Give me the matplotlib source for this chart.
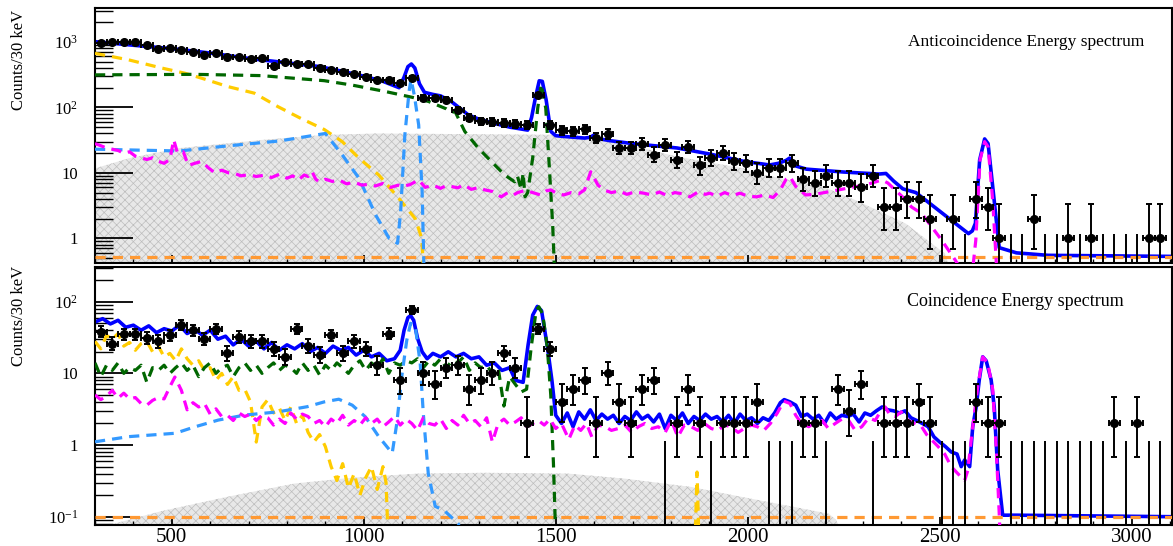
import numpy as np
import matplotlib
matplotlib.use("Agg")
import matplotlib.pyplot as plt
from matplotlib.ticker import MultipleLocator, FixedLocator, FixedFormatter, LogLocator, NullFormatter

plt.rcParams['font.family'] = ['Liberation Serif', 'DejaVu Serif']
plt.rcParams['mathtext.fontset'] = 'custom'
plt.rcParams['mathtext.rm'] = 'Liberation Serif'
plt.rcParams['hatch.linewidth'] = 0.5

# 30 keV bins from 300 keV
bin_start, bin_width, n_bins = 300, 30, 93
centers = bin_start + bin_width / 2 + bin_width * np.arange(n_bins)

# ---------------- anticoincidence (top) ----------------
top_counts = [960, 990, 1000, 1010, 900, 780, 800, 760, 700, 635,
              675, 585, 585, 550, 565, 436, 490, 457, 457, 406,
              374, 345, 322, 296, 264, 265, 240, 285, 141, 138,
              131, 91, 70, 61, 59, 58, 56, 54, 155, 54,
              45, 43, 46, 34, 39, 24, 24, 28, 19, 27,
              16, 25, 13, 17, 20, 15, 14, 10, 12, 12,
              14, 8, 7, 9, 7, 7, 6, 9, 3, 3,
              4, 4, 2, 0, 2, 0, 4, 3, 1, 0,
              0, 2, 0, 0, 1, 0, 1, 0, 0, 0,
              0, 1, 1]

top_total_e = [300, 400, 500, 603, 700, 800, 884, 950, 1000, 1050, 1092, 1105, 1115, 1124,
               1133, 1145, 1158, 1180, 1200, 1228, 1272, 1300, 1340, 1380, 1427, 1437, 1447,
               1457, 1465, 1475, 1487, 1500, 1521, 1575, 1590, 1600, 1615, 1642, 1700, 1816,
               1901, 1990, 2057, 2080, 2100, 2109, 2120, 2153, 2250, 2342, 2360, 2380, 2404,
               2438, 2500, 2575, 2585, 2593, 2604, 2617, 2626, 2638, 2655, 2700, 2782, 3105]
top_total_v = [1010, 890, 790, 674, 560, 480, 421, 350, 300, 250, 200, 290, 420, 460,
               400, 230, 170, 158, 150, 123, 77, 66, 57, 50, 45, 70, 140,
               255, 250, 130, 43, 37, 36, 34, 35, 38, 33, 31, 28, 24,
               19.4, 15, 13.2, 14, 15.5, 16.8, 13, 11.4, 10.3, 9.6, 9.8, 7.5, 5.7,
               5.0, 2.6, 1.18, 1.3, 1.7, 15.7, 33, 28, 6.2, 0.72, 0.6, 0.55, 0.53]

top_yellow_e = [300, 388, 474, 534, 578, 646, 715, 776, 836, 897, 944, 988, 1039, 1091, 1134, 1151, 1156]
top_yellow_v = [670, 532, 399, 333, 279, 208, 165, 103, 68, 46, 30, 16.7, 9.3, 4.1, 2.0, 1.0, 0.3]

top_green_e = [300, 560, 733, 897, 970, 1056, 1130, 1169, 1215, 1228, 1238, 1263, 1298, 1332,
               1367, 1393, 1400, 1410, 1415, 1420, 1427, 1440, 1453, 1462, 1474, 1483, 1492, 1497]
top_green_v = [314, 320, 306, 256, 219, 175, 141, 123, 95, 84, 86, 43, 24, 15,
               9.3, 7.3, 9, 5.6, 10, 4.3, 5.0, 17, 97, 226, 97, 13, 1.6, 0.3]

top_lblue_e = [300, 390, 520, 650, 780, 900, 944, 988, 1031, 1066, 1088, 1096, 1107, 1118,
               1123, 1132, 1143, 1152, 1157]
top_lblue_v = [23, 22.4, 21.6, 26, 30.7, 40, 18.8, 8.2, 2.27, 1.0, 0.84, 2.55, 38, 175,
               270, 150, 54, 5.2, 0.3]

top_mag_e = [300, 315, 330, 345, 360, 375, 390, 405, 420, 435, 450, 465, 480, 495, 505, 515,
             530, 543, 560, 578, 595, 612, 630, 648, 664, 680, 700, 720, 740, 760, 780, 800,
             815, 830, 845, 855, 865, 875, 884, 900, 918, 936, 955, 975, 995, 1013, 1030,
             1050, 1070, 1090, 1100, 1120, 1143, 1160, 1180, 1200, 1215, 1228, 1245, 1260,
             1280, 1300, 1315, 1335, 1358, 1375, 1390, 1401, 1420, 1440, 1460, 1475, 1487,
             1505, 1521, 1540, 1560, 1575, 1591, 1610, 1625, 1645, 1665, 1685, 1705, 1729,
             1750, 1770, 1790, 1810, 1830, 1850, 1870, 1890, 1901, 1920, 1940, 1960, 1980,
             2000, 2023, 2045, 2066, 2085, 2100, 2110, 2125, 2151, 2175, 2200, 2237, 2270,
             2306, 2330, 2349, 2365, 2384, 2405, 2427, 2453, 2479, 2505, 2540, 2560, 2585,
             2594, 2605, 2617, 2626, 2638, 2647, 2652]
top_mag_v = [28, 26, 24, 23, 22, 20, 21, 18, 17, 16, 17, 15, 14, 16, 32, 20,
             21, 13, 14, 15, 12, 10, 11, 10, 9.8, 9.0, 9.4, 8.8, 9.2, 8.5, 9.5, 8.3,
             9.0, 7.8, 9.3, 8.8, 10.5, 8.0, 7.3, 8.0, 7.4, 7.8, 6.8, 7.2, 6.5, 6.7, 6.3,
             6.9, 6.0, 6.5, 6.2, 6.6, 7.8, 6.0, 6.5, 5.8, 6.4, 6.2, 5.9, 6.6,
             5.6, 6.0, 5.5, 5.2, 4.3, 5.0, 4.6, 5.0, 5.4, 5.0, 4.6, 5.3, 5.5,
             4.8, 4.6, 5.0, 4.8, 5.5, 10.4, 6.5, 5.5, 5.0, 5.3, 4.7, 5.1, 4.9,
             4.6, 5.1, 4.5, 5.0, 4.8, 4.3, 5.1, 4.7, 4.9, 4.4, 5.0, 4.5, 4.9,
             4.4, 4.3, 4.6, 4.2, 5.5, 8.0, 8.8, 6.2, 4.6, 4.7, 5.0, 5.5, 6.0,
             6.5, 7.2, 7.8, 7.0, 5.5, 4.2, 3.0, 2.4, 1.5, 0.94, 0.47, 0.3, 0.3,
             0.94, 15.7, 30, 25, 3.8, 0.47, 0.1]

top_gray_e = [300, 388, 517, 733, 897, 1039, 1531, 1591, 1700, 1816, 1990, 2023, 2108, 2194,
              2280, 2410, 2513, 2530]
top_gray_v = [11.7, 16.7, 23.8, 31.8, 38, 40, 38, 35.8, 26, 17.7, 11.7, 9.8, 7.8, 6.2,
              3.85, 1.7, 0.59, 0.3]

top_flat = 0.52

# ---------------- coincidence (bottom) ----------------
bot_counts = [38, 26, 35, 35, 31, 28, 34, 47, 40, 30,
              42, 19, 32, 28, 28, 22, 17, 42, 24, 18,
              34, 19, 28, 22, 13, 36, 8, 76, 10, 7,
              12, 13, 6, 8, 10, 19, 12, 2, 42, 22,
              4, 6, 8, 2, 10, 4, 2, 6, 8, 0,
              2, 6, 2, 0, 2, 2, 2, 4, 0, 0,
              0, 2, 2, 0, 6, 3, 7, 0, 2, 2,
              2, 4, 2, 0, 0, 0, 4, 2, 2, 0,
              0, 0, 0, 0, 0, 0, 0, 0, 2, 0,
              2, 0, 0]

bot_total_e = [300, 320, 340, 360, 380, 400, 420, 440, 460, 480, 500, 520, 540, 560, 580, 600,
               620, 640, 660, 680, 700, 720, 740, 760, 780, 800, 820, 840, 860, 880, 900, 920,
               940, 960, 980, 1000, 1020, 1040, 1060, 1080, 1095, 1105, 1115, 1122, 1130, 1140,
               1152, 1165, 1180, 1200, 1220, 1240, 1260, 1280, 1300, 1320, 1340, 1360, 1380,
               1395, 1415, 1428, 1440, 1452, 1463, 1478, 1490, 1500, 1515, 1530, 1545, 1560,
               1575, 1590, 1605, 1620, 1635, 1650, 1665, 1680, 1695, 1710, 1725, 1740, 1755,
               1770, 1785, 1800, 1815, 1830, 1845, 1860, 1875, 1890, 1905, 1920, 1935, 1950,
               1965, 1980, 1995, 2010, 2025, 2040, 2055, 2070, 2085, 2095, 2110, 2125, 2140,
               2155, 2170, 2185, 2200, 2215, 2230, 2245, 2260, 2275, 2290, 2305, 2320, 2335,
               2350, 2365, 2380, 2395, 2410, 2425, 2440, 2455, 2470, 2485, 2500, 2515, 2530,
               2545, 2556, 2565, 2578, 2586, 2595, 2603, 2612, 2621, 2634, 2642, 2651, 2664,
               2700, 3105]
bot_total_v = [52, 58, 49, 55, 44, 47, 40, 46, 37, 42, 39, 47, 36, 41, 34, 40,
               30, 33, 25, 30, 24, 28, 22, 27, 21, 25, 22, 26, 20, 23, 19, 24,
               21, 23, 18, 21, 17, 19, 15, 16, 21, 40, 60, 64, 55, 31,
               20, 16, 19, 17, 20, 17, 19, 16, 17, 13, 14, 11, 12,
               8, 7.5, 25, 65, 86, 75, 24, 8, 2.6, 2.0, 2.8, 1.8, 2.9,
               2.3, 3.1, 2.2, 2.7, 2.3, 2.6, 2.0, 2.5, 2.2, 2.9, 2.3, 2.6, 2.1,
               2.7, 1.7, 2.6, 2.2, 2.8, 2.0, 2.5, 2.2, 2.7, 2.3, 2.5, 2.1, 2.6,
               2.0, 2.7, 2.2, 2.4, 2.0, 2.4, 2.2, 2.8, 3.9, 4.3, 4.0, 3.6, 2.5,
               2.7, 2.3, 2.6, 2.0, 2.8, 2.3, 2.6, 2.5, 2.7, 2.1, 2.8, 2.6, 3.0,
               3.4, 3.1, 3.0, 2.8, 3.0, 2.4, 2.2, 2.0, 1.8, 1.3, 1.1, 0.95, 0.8,
               0.75, 0.5, 0.62, 0.5, 1.8, 3.4, 8.1, 17, 15, 8.1, 3.4, 0.45, 0.105,
               0.105, 0.1]

bot_green_e = [300, 315, 330, 345, 360, 375, 390, 405, 420, 435, 450, 465, 480, 495, 510, 525,
               540, 555, 570, 585, 600, 615, 630, 645, 660, 675, 690, 705, 720, 735, 750, 765,
               780, 795, 810, 825, 840, 855, 870, 885, 900, 915, 930, 945, 960, 975, 990, 1005,
               1020, 1035, 1050, 1065, 1080, 1095, 1110, 1125, 1140, 1155, 1170, 1185, 1200,
               1215, 1230, 1245, 1260, 1275, 1290, 1305, 1320, 1335, 1350, 1365, 1380, 1395,
               1410, 1424, 1436, 1449, 1456, 1466, 1478, 1487, 1494, 1500]
bot_green_v = [14, 9, 13, 11, 14, 10, 12, 11, 13, 7.5, 12, 11, 13, 10, 12, 14,
               11, 13, 9, 12, 14, 10, 12, 13, 9, 12, 14, 11, 13, 10, 12, 14,
               11, 13, 12, 10, 14, 11, 13, 9.5, 13, 11, 14, 12, 10, 13, 15, 11,
               14, 12, 16, 10, 14, 13, 15, 14, 16, 12, 15, 13, 16,
               12, 15, 14, 17, 11, 14, 12, 13, 10, 12, 3.5, 9, 7,
               5.5, 6, 23, 76, 85, 67, 23, 5, 0.55, 0.05]

bot_yellow_e = [300, 315, 330, 345, 360, 375, 390, 405, 420, 435, 450, 465, 480, 495, 510, 525,
                540, 555, 570, 585, 600, 615, 630, 645, 660, 675, 690, 705, 720, 735, 750, 765,
                780, 795, 810, 825, 840, 855, 870, 885, 900, 915, 930, 945, 960, 975, 990, 1005,
                1020, 1035, 1050, 1058, 1065]
bot_yellow_v = [28, 22, 34, 30, 36, 24, 27, 21, 26, 28, 20, 24, 17, 19, 15, 22,
                16, 13, 15, 11, 12, 8, 10, 7, 9, 5.8, 6, 4, 1.1, 3.4, 4.3, 2.8,
                3.3, 2.2, 3.4, 2.0, 2.6, 1.5, 1.1, 1.4, 0.95, 0.5, 0.32, 0.55, 0.25, 0.4, 0.2, 0.35,
                0.5, 0.24, 0.5, 0.3, 0.03]
bot_yellow_spike_e = [1862, 1868, 1874]
bot_yellow_spike_v = [0.03, 0.42, 0.03]

bot_lblue_e = [300, 388, 509, 561, 621, 690, 776, 853, 897, 935, 970, 1004, 1039, 1074, 1086,
               1100, 1112, 1122, 1134, 1147, 1155, 1168, 1186, 1211, 1246, 1260]
bot_lblue_v = [1.11, 1.31, 1.46, 1.8, 2.23, 2.62, 2.9, 3.43, 4.0, 4.36, 3.6, 2.48, 1.31, 0.77, 2.0,
               10, 29, 50, 46, 13.8, 2.77, 0.4, 0.14, 0.12, 0.08, 0.05]

bot_mag_e = [300, 315, 330, 345, 360, 375, 390, 405, 420, 435, 450, 465, 480, 495, 508, 525,
             540, 555, 570, 585, 600, 615, 630, 645, 660, 675, 690, 705, 720, 735, 750, 765,
             780, 795, 810, 825, 840, 855, 870, 885, 900, 915, 930, 945, 960, 975, 990, 1005,
             1020, 1035, 1050, 1065, 1080, 1095, 1110, 1125, 1140, 1155, 1170, 1185, 1200,
             1215, 1230, 1245, 1260, 1275, 1290, 1305, 1320, 1335, 1350, 1365, 1380, 1395,
             1410, 1425, 1440, 1455, 1470, 1485, 1500, 1515, 1534, 1550, 1565, 1580, 1594,
             1610, 1629, 1645, 1663, 1680, 1698, 1715, 1732, 1750, 1767, 1785, 1801, 1818,
             1835, 1853, 1870, 1887, 1905, 1922, 1940, 1956, 1975, 1991, 2010, 2025, 2042,
             2059, 2077, 2094, 2110, 2125, 2140, 2159, 2176, 2194, 2210, 2228, 2245, 2263,
             2280, 2297, 2315, 2332, 2345, 2358, 2371, 2384, 2400, 2418, 2435, 2453, 2466,
             2478, 2496, 2513, 2530, 2547, 2565, 2573, 2586, 2599, 2612, 2625, 2638, 2647,
             2655, 2659]
bot_mag_v = [5.0, 4.3, 4.8, 5.8, 4.5, 5.3, 4.4, 4.6, 3.8, 3.6, 4.2, 4.6, 4.4, 6.5, 8.9, 5.8,
             3.1, 3.9, 3.4, 3.8, 2.7, 3.2, 2.5, 2.6, 2.2, 2.8, 2.5, 2.7, 2.2, 2.6, 2.4, 1.9,
             2.3, 2.0, 2.8, 2.3, 2.7, 2.5, 2.0, 2.2, 1.8, 2.3, 2.0, 2.6, 1.9, 2.2, 1.9, 2.4,
             2.0, 2.3, 1.8, 2.1, 2.5, 1.9, 2.3, 2.0, 1.6, 2.4, 2.0, 1.9, 2.3,
             1.7, 2.2, 1.9, 2.6, 2.0, 2.2, 1.8, 2.4, 1.1, 2.0, 2.3, 1.9, 2.1,
             2.4, 1.8, 2.0, 2.2, 1.9, 2.3, 1.7, 2.0, 1.2, 1.9, 1.6, 2.0, 1.3,
             1.9, 1.8, 1.6, 1.7, 1.9, 1.5, 1.8, 2.0, 1.7, 1.8, 1.5, 2.2, 1.3,
             1.9, 1.8, 1.6, 2.0, 1.7, 1.6, 1.9, 1.8, 1.5, 1.7, 1.9, 1.8, 1.6,
             2.0, 2.8, 4.1, 3.8, 2.6, 2.0, 1.8, 2.1, 2.2, 1.7, 2.0, 2.3, 2.2,
             1.6, 1.8, 2.4, 2.2, 2.9, 3.4, 2.6, 2.5, 2.9, 2.2, 2.0, 1.8, 1.4,
             1.2, 0.95, 0.75, 0.5, 0.4, 0.32, 0.44, 1.8, 6.5, 17, 14, 6.0, 0.95,
             0.11, 0.03]

bot_gray_e = [350, 474, 646, 819, 897, 970, 1143, 1315, 1531, 1680, 1853, 1982, 2111, 2211, 2230, 2240]
bot_gray_v = [0.08, 0.12, 0.19, 0.29, 0.32, 0.35, 0.4, 0.41, 0.4, 0.34, 0.26, 0.19, 0.14, 0.11, 0.09, 0.07]

bot_flat = 0.1

# ---------------- drawing ----------------
c_blue = '#0000ff'
c_yellow = '#ffcc00'
c_green = '#006600'
c_lblue = '#3399ff'
c_mag = '#ff00ff'
c_orange = '#ff9933'
dash = (0, (3.2, 2.2))
zero_top = 1.15

fig = plt.figure(figsize=(11.73, 5.46), dpi=100)
ax1 = fig.add_axes([95 / 1173, 1 - 263 / 546, 1077 / 1173, 255 / 546])
ax2 = fig.add_axes([95 / 1173, 1 - 525 / 546, 1077 / 1173, 258 / 546])


def draw_data(ax, counts):
    n = np.array(counts, dtype=float)
    nz = n > 0
    lo = np.sqrt(n[nz] - 0.25)
    hi = 1 + np.sqrt(n[nz] + 0.75)
    ax.errorbar(centers[nz], n[nz], yerr=[lo, hi], xerr=bin_width / 2, fmt='o', color='k',
                ms=5.5, elinewidth=1.4, capsize=2, capthick=1.4, zorder=6)
    ax.vlines(centers[~nz], 1e-3, zero_top, color='k', lw=1.4, zorder=6)


def style(ax, yticks, ylabels, ylim):
    ax.set_yscale('log')
    ax.set_xlim(300, 3105)
    ax.set_ylim(*ylim)
    ax.xaxis.set_major_locator(MultipleLocator(500))
    ax.xaxis.set_minor_locator(MultipleLocator(100))
    ax.yaxis.set_major_locator(FixedLocator(yticks))
    ax.yaxis.set_major_formatter(FixedFormatter(ylabels))
    ax.yaxis.set_minor_locator(LogLocator(base=10, subs=np.arange(2, 10)))
    ax.yaxis.set_minor_formatter(NullFormatter())
    ax.tick_params(axis='x', which='major', direction='in', length=6, width=1.3, labelsize=15, pad=2)
    ax.tick_params(axis='x', which='minor', direction='in', length=3, width=1.0)
    ax.tick_params(axis='y', which='major', direction='in', length=27, width=1.3, labelsize=12, pad=12)
    ax.tick_params(axis='y', which='minor', direction='in', length=13, width=1.0)
    for s in ax.spines.values():
        s.set_linewidth(1.5)


# top panel
ax1.fill_between(top_gray_e, 1e-3, top_gray_v, facecolor='#e8e8e8', edgecolor='#bdbdbd',
                 hatch='xxxx', lw=0, zorder=1)
ax1.axhline(top_flat, color=c_orange, lw=2.3, ls=dash, zorder=3)
ax1.plot(top_total_e, top_total_v, color=c_blue, lw=2.6, zorder=2)
ax1.plot(top_yellow_e, top_yellow_v, color=c_yellow, lw=2.3, ls=dash, zorder=3)
ax1.plot(top_green_e, top_green_v, color=c_green, lw=2.3, ls=dash, zorder=3)
ax1.plot(top_lblue_e, top_lblue_v, color=c_lblue, lw=2.3, ls=dash, zorder=3)
ax1.plot(top_mag_e, top_mag_v, color=c_mag, lw=2.3, ls=dash, zorder=3)
draw_data(ax1, top_counts)
style(ax1, [1, 10, 100, 1000], ['1', '10', r'$\mathregular{10^{2}}$', r'$\mathregular{10^{3}}$'], (0.42, 3300))
ax1.tick_params(axis='x', labelbottom=False)

# bottom panel
ax2.fill_between(bot_gray_e, 1e-3, bot_gray_v, facecolor='#e8e8e8', edgecolor='#bdbdbd',
                 hatch='xxxx', lw=0, zorder=1)
ax2.axhline(bot_flat, color=c_orange, lw=2.3, ls=dash, zorder=3)
ax2.plot(bot_total_e, bot_total_v, color=c_blue, lw=2.6, zorder=2)
ax2.plot(bot_yellow_e, bot_yellow_v, color=c_yellow, lw=2.3, ls=dash, zorder=3)
ax2.plot(bot_yellow_spike_e, bot_yellow_spike_v, color=c_yellow, lw=2.3, ls=dash, zorder=3)
ax2.plot(bot_green_e, bot_green_v, color=c_green, lw=2.3, ls=dash, zorder=3)
ax2.plot(bot_lblue_e, bot_lblue_v, color=c_lblue, lw=2.3, ls=dash, zorder=3)
ax2.plot(bot_mag_e, bot_mag_v, color=c_mag, lw=2.3, ls=dash, zorder=3)
draw_data(ax2, bot_counts)
style(ax2, [0.1, 1, 10, 100], [r'$\mathregular{10^{-1}}$', '1', '10', r'$\mathregular{10^{2}}$'], (0.0766, 305))

fig.text(19 / 1173, 1 - 10 / 546, 'Counts/30 keV', rotation=90, ha='center', va='top', fontsize=12)
fig.text(19 / 1173, 1 - 266 / 546, 'Counts/30 keV', rotation=90, ha='center', va='top', fontsize=12)
fig.text(908 / 1173, 1 - 42 / 546, 'Anticoincidence Energy spectrum', ha='left', va='center', fontsize=12.5)
fig.text(907 / 1173, 1 - 301 / 546, 'Coincidence Energy spectrum', ha='left', va='center', fontsize=13)

fig.savefig('out.png', dpi=100)
